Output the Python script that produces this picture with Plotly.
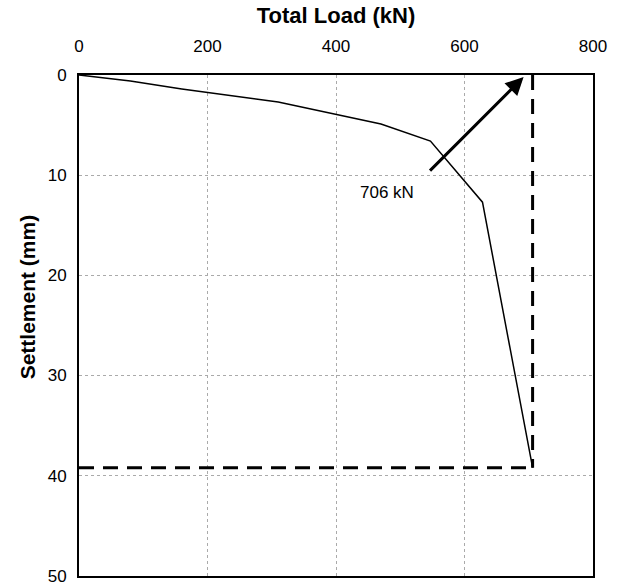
import plotly.graph_objects as go

# Data
load_kn = [0, 80, 160, 310, 470, 547, 628, 706]
settlement_mm = [0, 0.6, 1.4, 2.7, 4.9, 6.6, 12.7, 39.2]

failure_load = 706
failure_settlement = 39.2

x_ticks = [0, 200, 400, 600, 800]
y_ticks = [0, 10, 20, 30, 40, 50]

arrow_tail = (544, 9.7)
arrow_tip = (692, 0.2)
label_text = "706 kN"
label_pos = (480, 11.7)

fig = go.Figure()

fig.add_trace(go.Scatter(
    x=load_kn, y=settlement_mm, mode="lines",
    line=dict(color="black", width=1.5), showlegend=False, hoverinfo="skip"))

# vertical dashed line at failure load
fig.add_trace(go.Scatter(
    x=[failure_load, failure_load], y=[0, failure_settlement], mode="lines",
    line=dict(color="black", width=3, dash="15px,9px"), showlegend=False, hoverinfo="skip"))
# horizontal dashed line
fig.add_trace(go.Scatter(
    x=[0, failure_load], y=[failure_settlement, failure_settlement], mode="lines",
    line=dict(color="black", width=3, dash="15px,9px"), showlegend=False, hoverinfo="skip"))

fig.add_annotation(
    x=arrow_tip[0], y=arrow_tip[1], ax=arrow_tail[0], ay=arrow_tail[1],
    xref="x", yref="y", axref="x", ayref="y",
    showarrow=True, arrowhead=2, arrowsize=1.2, arrowwidth=3, arrowcolor="black", text="")
fig.add_annotation(
    x=label_pos[0], y=label_pos[1], xref="x", yref="y", text=label_text,
    showarrow=False, font=dict(family="Liberation Sans, Arial", size=17, color="black"))

font = dict(family="Liberation Sans, Arial", size=17, color="black")
title_font = dict(family="Liberation Sans, Arial", size=21, color="black")

# y-axis title (placed slightly above centre, as in the reference)
fig.add_annotation(
    x=0, xref="paper", xshift=-52, xanchor="center", y=22.2, yref="y", yanchor="middle",
    text="<b>Settlement (mm)</b>", textangle=-90, showarrow=False,
    font=title_font)

fig.update_layout(
    width=619, height=585,
    margin=dict(l=79, r=26, t=75, b=9),
    plot_bgcolor="white", paper_bgcolor="white",
    font=font,
    xaxis=dict(
        side="top", range=[0, 800], tickvals=x_ticks, ticks="",
        showgrid=True, gridcolor="#aaaaaa", griddash="dot", gridwidth=1,
        showline=True, linecolor="black", linewidth=2, mirror=True,
        zeroline=False, ticklabelstandoff=14, automargin=False,
        ticklabeloverflow="allow",
        title=dict(text="<b>Total Load (kN)</b>", font=dict(family="Liberation Sans, Arial", size=22, color="black"), standoff=8),
    ),
    yaxis=dict(
        range=[50.02, 0], tickvals=y_ticks, ticks="",
        showgrid=True, gridcolor="#aaaaaa", griddash="dot", gridwidth=1,
        showline=True, linecolor="black", linewidth=2, mirror=True,
        zeroline=False, ticklabelstandoff=7, automargin=False,
        ticklabeloverflow="allow",
    ),
)

fig.write_html("out.html", config={"displayModeBar": False},
               post_script="document.body.style.margin='0px';")
